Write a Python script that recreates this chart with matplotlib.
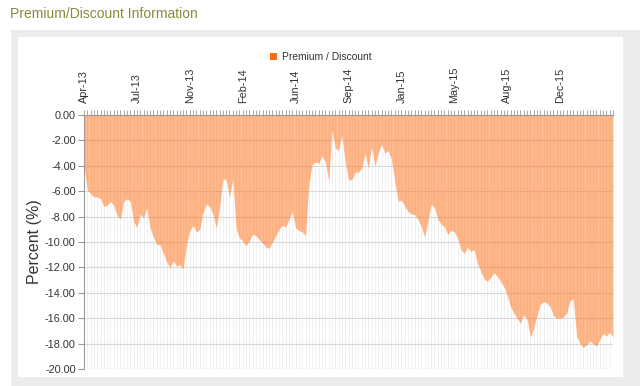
import matplotlib
matplotlib.use("Agg")
import matplotlib.pyplot as plt
from matplotlib.patches import Rectangle, Patch

plt.rcParams['font.family'] = ['Liberation Sans', 'DejaVu Sans']

# ---- data -------------------------------------------------------------
tick_labels = ["Apr-13", "Jul-13", "Nov-13", "Feb-14", "Jun-14",
               "Sep-14", "Jan-15", "May-15", "Aug-15", "Dec-15"]
tick_step = 16
premium_discount = [
    -4.0, -5.9, -6.2, -6.45, -6.45, -6.6, -7.2, -7.1, -6.8, -7.1,
    -7.9, -8.2, -6.8, -6.6, -6.8, -8.4, -8.85, -7.8, -8.1, -7.3,
    -8.9, -9.6, -10.2, -10.2, -10.9, -11.6, -12.0, -11.5, -11.9, -11.8,
    -12.1, -10.2, -9.1, -8.7, -9.2, -9.0, -7.7, -7.0, -7.2, -7.8,
    -8.9, -7.3, -5.0, -5.1, -6.5, -5.0, -8.9, -9.7, -9.9, -10.3,
    -9.9, -9.4, -9.5, -9.8, -10.1, -10.4, -10.5, -10.0, -9.5, -9.0,
    -8.7, -8.8, -8.2, -7.6, -8.9, -9.1, -9.2, -9.5, -5.5, -3.9,
    -3.7, -3.8, -3.2, -3.7, -5.2, -1.2, -2.6, -2.8, -1.6, -3.7,
    -5.1, -5.1, -4.5, -4.5, -4.2, -3.0, -4.2, -2.5, -4.0, -3.0,
    -2.3, -3.0, -2.8, -3.5, -5.2, -6.8, -6.7, -7.2, -7.6, -7.8,
    -7.85, -8.2, -8.8, -9.6, -8.4, -7.0, -7.3, -8.2, -8.6, -8.8,
    -9.4, -9.06, -9.2, -9.7, -10.6, -10.9, -10.4, -10.75, -10.6, -11.7,
    -12.3, -12.9, -13.1, -12.8, -12.4, -12.7, -13.1, -13.5, -14.2, -15.1,
    -15.6, -16.0, -16.4, -15.7, -16.1, -17.5, -16.8, -15.8, -14.9, -14.7,
    -14.8, -15.1, -15.8, -16.0, -16.0, -15.9, -15.6, -14.6, -14.5, -17.4,
    -18.0, -18.3, -18.1, -17.8, -18.0, -18.2, -17.7, -17.2, -17.4, -17.1,
    -17.5,
]
y_ticks = [0, -2, -4, -6, -8, -10, -12, -14, -16, -18, -20]

# ---- figure -----------------------------------------------------------
W, H = 640, 386
fig = plt.figure(figsize=(W / 100, H / 100), dpi=100)
fig.patch.set_facecolor("white")

def fx(px):
    return px / W

def fy(py):
    return 1 - py / H

# outer panel with grey border
fig.patches.append(Rectangle((fx(11), fy(386)), fx(640) - fx(11), fy(30) - fy(386),
                             transform=fig.transFigure, facecolor="#ececec",
                             edgecolor="none", zorder=-2))
fig.patches.append(Rectangle((fx(18), fy(377)), fx(623) - fx(18), fy(37) - fy(377),
                             transform=fig.transFigure, facecolor="white",
                             edgecolor="none", zorder=-1))

fig.text(fx(10), fy(14), "Premium/Discount Information", fontsize=10,
         color="#8a8a3c", ha="left", va="center")

ax = fig.add_axes([fx(84), fy(369), fx(613) - fx(84), fy(115) - fy(369)])
ax.set_facecolor("none")
ax.set_zorder(2)

n = len(premium_discount)
x = list(range(n))
ax.fill_between(x, premium_discount, 0, color="#ff7a26", alpha=0.55,
                linewidth=0, zorder=2)

ax.set_xlim(0, n - 1)
ax.set_ylim(-20, 0)

# x axis on top
ax.xaxis.tick_top()
major = list(range(0, n, tick_step))[:len(tick_labels)]
ax.set_xticks(major)
ax.set_xticklabels(tick_labels, rotation=90, fontsize=7.8, color="#333333")
ax.set_xticks(x, minor=True)
ax.tick_params(axis="x", which="both", direction="out", length=3.5,
               width=0.6, color="#999999", pad=5, top=True, bottom=False)

ax.set_yticks(y_ticks)
ax.set_yticklabels([f"{v:.2f}" for v in y_ticks], fontsize=7.8, color="#333333")
ax.tick_params(axis="y", direction="out", length=4, width=0.8,
               color="#999999", pad=2)

ax.grid(True, axis="y", which="major", color="#d9d9d9", linewidth=0.8, zorder=1)
ax.grid(True, axis="x", which="both", color="#dedede", linewidth=0.5,
        linestyle=(0, (2, 1)), zorder=1)
ax.set_axisbelow(True)

for s in ["right", "bottom"]:
    ax.spines[s].set_visible(False)
for s in ["left", "top"]:
    ax.spines[s].set_color("#999999")
    ax.spines[s].set_linewidth(0.8)

ax.set_ylabel("Percent (%)", fontsize=11.5, color="#333333", labelpad=2)

fig.legend(handles=[Patch(facecolor="#ff6a13", edgecolor="none")],
           labels=["Premium / Discount"], loc="center left",
           bbox_to_anchor=(fx(261), fy(57)), frameon=False, fontsize=7.4,
           handlelength=0.7, handleheight=0.7, handletextpad=0.4,
           labelcolor="#333333")

fig.savefig("out.png", dpi=100)
